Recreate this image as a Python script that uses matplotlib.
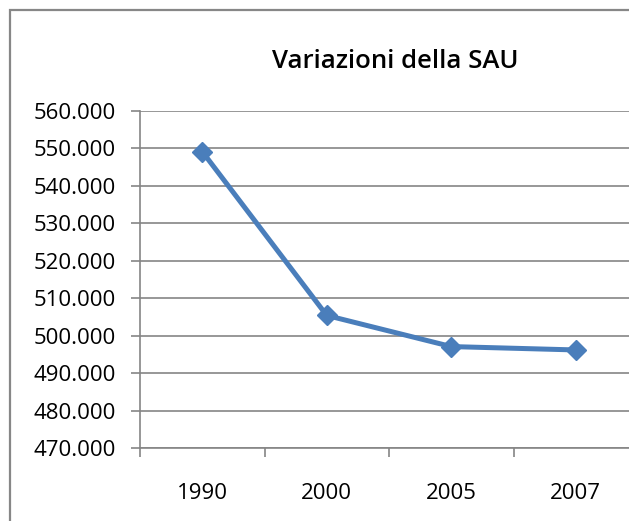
import matplotlib.pyplot as plt
from matplotlib.patches import Rectangle
from matplotlib.ticker import FuncFormatter, FixedLocator

years = ['1990', '2000', '2005', '2007']
sau = [549100, 505400, 497100, 496200]
y_ticks = list(range(470000, 560001, 10000))

plt.rcParams['font.family'] = ['Open Sans', 'DejaVu Sans']

fig = plt.figure(figsize=(6.29, 5.21), dpi=100)
ax = fig.add_axes([140 / 629, 1 - 448.2 / 521, 498 / 629, (448.2 - 110.7) / 521])

# outer chart border (cut off on right and bottom like the original)
fig.patches.append(Rectangle((10 / 629, -0.05), 1.2, 1.05 - 10 / 521,
                             transform=fig.transFigure, fill=False,
                             edgecolor='#878787', linewidth=1.6))

x = list(range(len(years)))
ax.plot(x, sau, color='#4a7ebb', linewidth=3.6, marker='D', markersize=10.5,
        solid_capstyle='round', zorder=3, clip_on=False)

ax.set_xlim(-0.5, len(years) - 0.5)
ax.set_ylim(470000, 560000)
ax.set_yticks(y_ticks)
ax.yaxis.set_major_formatter(FuncFormatter(lambda v, p: '{:,.0f}'.format(v).replace(',', '.')))
ax.grid(axis='y', color='#858585', linewidth=1.2)
ax.set_axisbelow(True)

ax.xaxis.set_major_locator(FixedLocator([i - 0.5 for i in range(len(years) + 1)]))
ax.xaxis.set_major_formatter(FuncFormatter(lambda v, p: ''))
ax.xaxis.set_minor_locator(FixedLocator(x))
ax.set_xticklabels(years, minor=True)

ax.tick_params(axis='y', length=6.5, width=1.2, color='#858585', pad=11, labelsize=16)
ax.tick_params(axis='x', which='major', length=6.5, width=1.2, color='#858585')
ax.tick_params(axis='x', which='minor', length=0, pad=25, labelsize=16)

for s in ['top', 'right']:
    ax.spines[s].set_visible(False)
for s in ['left', 'bottom']:
    ax.spines[s].set_color('#858585')
    ax.spines[s].set_linewidth(1.2)

fig.text(395 / 629, 1 - 62 / 521, 'Variazioni della SAU', ha='center', va='center',
         fontsize=18.5, fontweight='semibold')

fig.savefig('out.png', dpi=100)
